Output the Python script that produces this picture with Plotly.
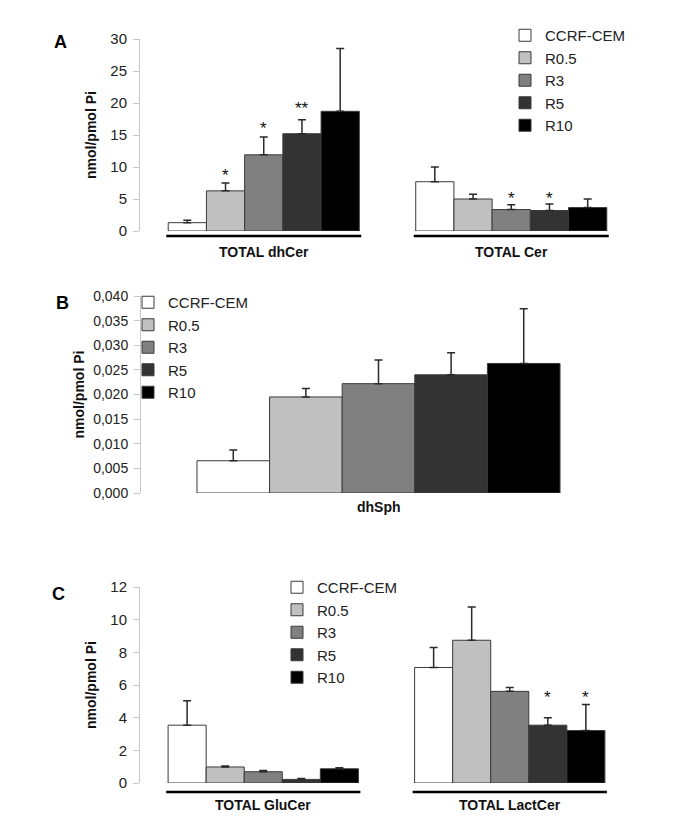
import plotly.graph_objects as go

W, H = 685, 835

series = ["CCRF-CEM", "R0.5", "R3", "R5", "R10"]
colors = ["#ffffff", "#c0c0c0", "#808080", "#333333", "#000000"]

# Panel A
A_cats = ["TOTAL dhCer", "TOTAL Cer"]
A_dhCer = [1.3, 6.27, 11.9, 15.2, 18.7]
A_dhCer_err = [0.37, 1.23, 2.8, 2.2, 9.8]
A_Cer = [7.7, 5.0, 3.35, 3.2, 3.66]
A_Cer_err = [2.3, 0.75, 0.75, 1.0, 1.34]
A_dhCer_stars = ["", "*", "*", "**", ""]
A_dhCer_star_y = [None, 9.25, 16.6, 19.7, None]
A_Cer_stars = ["", "", "*", "*", ""]
A_Cer_star_y = [None, None, 5.75, 5.75, None]
A_ticks = [0, 5, 10, 15, 20, 25, 30]

# Panel B
B_cats = ["dhSph"]
B_dhSph = [0.00655, 0.0195, 0.0222, 0.0240, 0.0263]
B_dhSph_err = [0.0022, 0.0017, 0.0048, 0.0045, 0.0111]
B_ticks = [0, 0.005, 0.010, 0.015, 0.020, 0.025, 0.030, 0.035, 0.040]

# Panel C
C_cats = ["TOTAL GluCer", "TOTAL LactCer"]
C_GluCer = [3.54, 0.98, 0.69, 0.22, 0.87]
C_GluCer_err = [1.5, 0.06, 0.08, 0.06, 0.06]
C_LactCer = [7.07, 8.74, 5.61, 3.54, 3.21]
C_LactCer_err = [1.22, 2.03, 0.24, 0.46, 1.59]
C_LactCer_stars = ["", "", "", "*", "*"]
C_LactCer_star_y = [None, None, None, 5.45, 5.45]
C_ticks = [0, 2, 4, 6, 8, 10, 12]

FONT = "Arial, Liberation Sans, Helvetica, sans-serif"
BARGAP = 0.228


def pxx(x):
    return x / W


def pyy(y):
    return 1 - y / H


fig = go.Figure()


def add_panel(cats, groups, errs, xa, ya, legend):
    for i, name in enumerate(series):
        fig.add_trace(go.Bar(
            x=cats,
            y=[g[i] for g in groups],
            name=name,
            marker=dict(color=colors[i], line=dict(color="#3a3a3a", width=1)),
            error_y=dict(type="data", symmetric=False,
                         array=[e[i] for e in errs],
                         arrayminus=[0] * len(cats),
                         color="#2a2a2a", thickness=1.5, width=4),
            xaxis=xa, yaxis=ya, legend=legend,
            legendgroup=legend + name,
        ))


add_panel(A_cats, [A_dhCer, A_Cer], [A_dhCer_err, A_Cer_err], "x", "y", "legend")
add_panel(B_cats, [B_dhSph], [B_dhSph_err], "x2", "y2", "legend2")
add_panel(C_cats, [C_GluCer, C_LactCer], [C_GluCer_err, C_LactCer_err], "x3", "y3", "legend3")

annotations = []
shapes = []


def bar_center(cat_idx, i):
    gw = 1 - BARGAP
    bw = gw / len(series)
    return cat_idx - gw / 2 + (i + 0.5) * bw


def add_stars(cat_idx, stars, star_y, xref, yref):
    for i, (s, yv) in enumerate(zip(stars, star_y)):
        if s:
            annotations.append(dict(
                x=bar_center(cat_idx, i), y=yv, xref=xref, yref=yref,
                text=s, showarrow=False, yshift=-4,
                font=dict(family=FONT, size=17, color="#111"),
                xanchor="center", yanchor="middle"))


add_stars(0, A_dhCer_stars, A_dhCer_star_y, "x", "y")
add_stars(1, A_Cer_stars, A_Cer_star_y, "x", "y")
add_stars(1, C_LactCer_stars, C_LactCer_star_y, "x3", "y3")


def add_cat_labels(cats, xref, label_y, line_y):
    half = (1 - BARGAP) / 2 + 0.008
    for k, c in enumerate(cats):
        annotations.append(dict(
            x=c, y=pyy(label_y), xref=xref, yref="paper", text="<b>%s</b>" % c,
            showarrow=False, font=dict(family=FONT, size=14, color="#111"),
            xanchor="center", yanchor="middle"))
        if line_y is not None:
            shapes.append(dict(type="line", xref=xref, yref="paper",
                               x0=k - half, x1=k + half,
                               y0=pyy(line_y), y1=pyy(line_y),
                               line=dict(color="#000", width=2.5)))


add_cat_labels(A_cats, "x", 252, 236)
add_cat_labels(B_cats, "x2", 507, None)
add_cat_labels(C_cats, "x3", 805, 792)

for letter, (lx, ly) in zip(["A", "B", "C"], [(60, 42), (62, 303), (58, 594)]):
    annotations.append(dict(
        x=pxx(lx), y=pyy(ly), xref="paper", yref="paper", text="<b>%s</b>" % letter,
        showarrow=False, font=dict(family=FONT, size=18, color="#000"),
        xanchor="center", yanchor="middle"))


def yaxis_style(standoff, tsize):
    return dict(
        showline=True, linecolor="#c8c8c8", linewidth=1,
        ticks="outside", ticklen=6, tickcolor="#c8c8c8", ticklabelstandoff=3,
        showgrid=False, zeroline=False, automargin=False,
        tickfont=dict(family=FONT, size=tsize, color="#222"),
        title=dict(text="<b>nmol/pmol Pi</b>", font=dict(family=FONT, size=14, color="#111"),
                   standoff=standoff),
    )


xaxis_common = dict(showline=False, showticklabels=False, ticks="", showgrid=False,
                    zeroline=False, automargin=False)

legend_common = dict(
    xanchor="left", yanchor="top", xref="paper", yref="paper",
    font=dict(family=FONT, size=15, color="#222"),
    bgcolor="rgba(0,0,0,0)", traceorder="normal",
)

fig.update_layout(
    width=W, height=H,
    margin=dict(l=0, r=0, t=0, b=0, pad=0, autoexpand=False),
    paper_bgcolor="white", plot_bgcolor="white",
    barmode="group", bargap=BARGAP, bargroupgap=0,
    separators=",.",
    showlegend=True,
    xaxis=dict(domain=[pxx(140), pxx(635)], range=[-0.5, 1.5], anchor="y", **xaxis_common),
    yaxis=dict(domain=[pyy(231), pyy(39)], range=[0, 30], tickvals=A_ticks, anchor="x",
               **yaxis_style(10, 15)),
    xaxis2=dict(domain=[pxx(141), pxx(616)], range=[-0.505, 0.505], anchor="y2", **xaxis_common),
    yaxis2=dict(domain=[pyy(493), pyy(296)], range=[0, 0.040], tickvals=B_ticks, tickformat=".3f",
                anchor="x2", **yaxis_style(5, 14)),
    xaxis3=dict(domain=[pxx(140), pxx(633)], range=[-0.5, 1.5], anchor="y3", **xaxis_common),
    yaxis3=dict(domain=[pyy(783), pyy(587)], range=[0, 12], tickvals=C_ticks, anchor="x3",
                **yaxis_style(10, 15)),
    legend=dict(x=pxx(505), y=pyy(19), tracegroupgap=0, **legend_common),
    legend2=dict(x=pxx(128), y=pyy(286), tracegroupgap=1, **legend_common),
    legend3=dict(x=pxx(277), y=pyy(571), tracegroupgap=1, **legend_common),
    annotations=annotations,
    shapes=shapes,
)

fig.write_html("out.html", config={"displayModeBar": False},
               post_script="document.body.style.margin='0';")
